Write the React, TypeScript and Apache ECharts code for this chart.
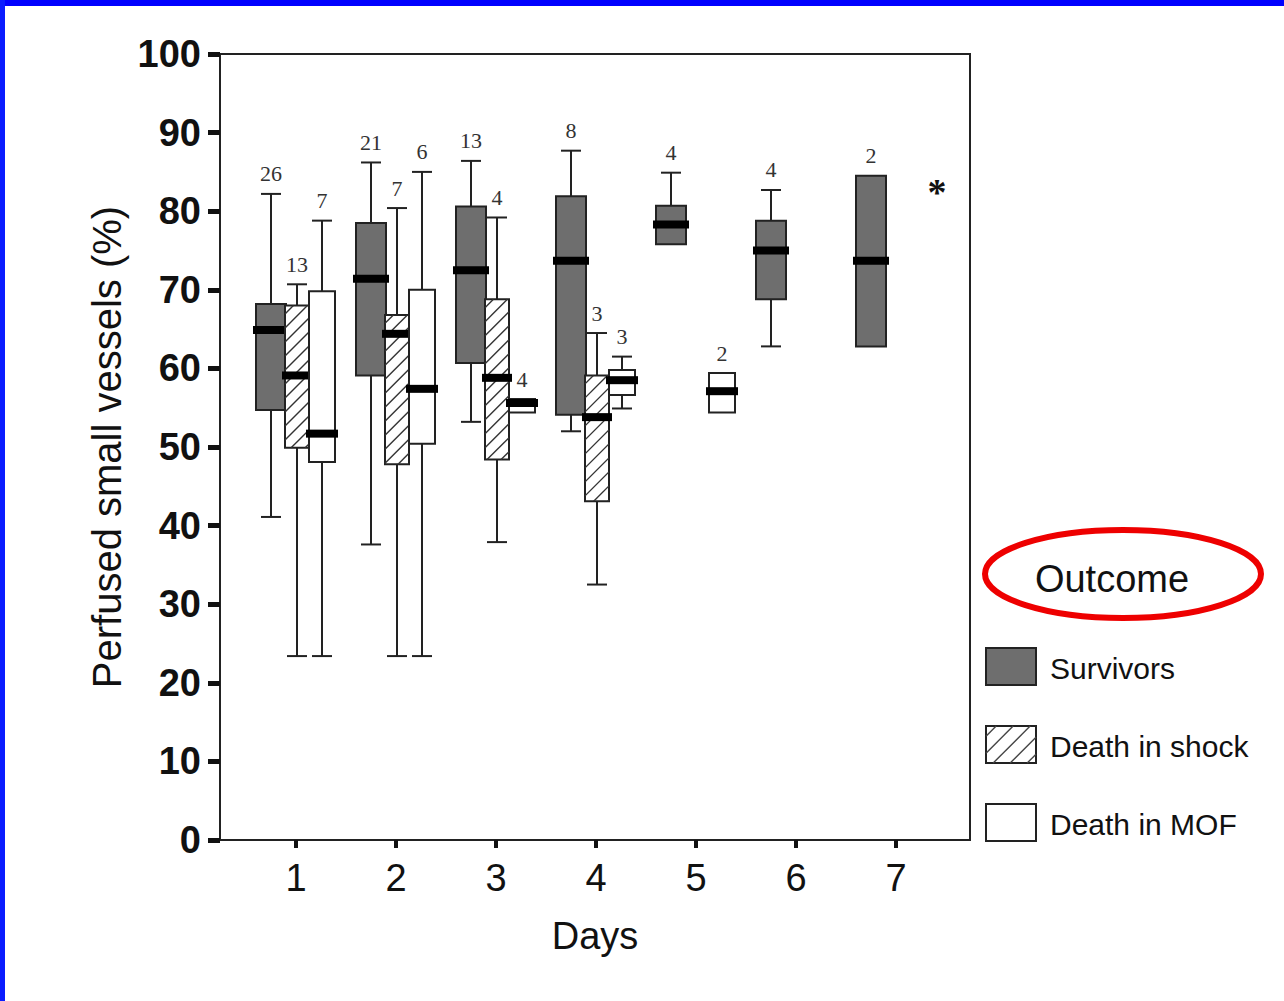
import React, { useEffect, useRef } from "react";
import * as echarts from "echarts";

// ---- data ----
const days = [1, 2, 3, 4, 5, 6, 7];
const yTicks = [0, 10, 20, 30, 40, 50, 60, 70, 80, 90, 100];
const outcomeNames = ["Survivors", "Death in shock", "Death in MOF"];

// [day, min, q1, median, q3, max, n]
const survivors = [
  [1, 41.1, 54.7, 64.9, 68.2, 82.2, 26],
  [2, 37.6, 59.1, 71.4, 78.5, 86.2, 21],
  [3, 53.2, 60.7, 72.5, 80.6, 86.4, 13],
  [4, 52.0, 54.1, 73.7, 81.9, 87.7, 8],
  [5, 75.8, 75.8, 78.3, 80.7, 84.9, 4],
  [6, 62.8, 68.8, 75.0, 78.8, 82.7, 4],
  [7, 62.8, 62.8, 73.7, 84.5, 84.5, 2],
];
const deathInShock = [
  [1, 23.4, 49.9, 59.1, 68.0, 70.7, 13],
  [2, 23.4, 47.8, 64.4, 66.8, 80.4, 7],
  [3, 37.9, 48.4, 58.8, 68.8, 79.2, 4],
  [4, 32.5, 43.1, 53.8, 59.1, 64.5, 3],
];
const deathInMOF = [
  [1, 23.4, 48.1, 51.7, 69.8, 78.8, 7],
  [2, 23.4, 50.4, 57.4, 70.0, 85.0, 6],
  [3, 54.4, 54.4, 55.6, 56.1, 56.1, 4],
  [4, 54.9, 56.6, 58.5, 59.8, 61.5, 3],
  [5, 54.4, 54.4, 57.1, 59.4, 59.4, 2],
];

const SURV_FILL = "#6e6e6e";
const EDGE = "#222";
const FONT = '"Liberation Sans", Arial, sans-serif';
const SERIF = '"Liberation Serif", "Times New Roman", serif';

function hatchLines(x0: number, y0: number, x1: number, y1: number, step: number, color: string) {
  const out: any[] = [];
  for (let c = x0 + y0 + step * 0.6; c < x1 + y1; c += step) {
    const xs = Math.max(x0, c - y1);
    const xe = Math.min(x1, c - y0);
    if (xe <= xs) continue;
    out.push({
      type: "line",
      shape: { x1: xs, y1: c - xs, x2: xe, y2: c - xe },
      style: { stroke: color, lineWidth: 1.4 },
      silent: true,
    });
  }
  return out;
}

function makeRender(offset: number, width: number, kind: "solid" | "hatch" | "white") {
  return (params: any, api: any) => {
    const day = api.value(0);
    const mn = api.value(1), q1 = api.value(2), md = api.value(3), q3 = api.value(4), mx = api.value(5);
    const n = api.value(6);
    const cx = day + offset;
    const x = api.coord([cx, md])[0];
    const yMin = api.coord([cx, mn])[1];
    const yQ1 = api.coord([cx, q1])[1];
    const yMd = api.coord([cx, md])[1];
    const yQ3 = api.coord([cx, q3])[1];
    const yMax = api.coord([cx, mx])[1];
    const half = api.size([width, 0])[0] / 2;
    const capHalf = api.size([0.1, 0])[0];
    const children: any[] = [];
    const ls = { stroke: EDGE, lineWidth: 2 };
    if (mx > q3) {
      children.push({ type: "line", shape: { x1: x, y1: yMax, x2: x, y2: yQ3 }, style: ls });
      children.push({ type: "line", shape: { x1: x - capHalf, y1: yMax, x2: x + capHalf, y2: yMax }, style: ls });
    }
    if (mn < q1) {
      children.push({ type: "line", shape: { x1: x, y1: yQ1, x2: x, y2: yMin }, style: ls });
      children.push({ type: "line", shape: { x1: x - capHalf, y1: yMin, x2: x + capHalf, y2: yMin }, style: ls });
    }
    children.push({
      type: "rect",
      shape: { x: x - half, y: yQ3, width: half * 2, height: yQ1 - yQ3 },
      style: { fill: kind === "solid" ? SURV_FILL : "#fff", stroke: EDGE, lineWidth: 2 },
    });
    if (kind === "hatch") {
      children.push(...hatchLines(x - half, yQ3, x + half, yQ1, 14, "#333"));
    }
    children.push({
      type: "rect",
      shape: { x: x - half - 3, y: yMd - 4, width: half * 2 + 6, height: 8 },
      style: { fill: "#000" },
    });
    children.push({
      type: "text",
      style: {
        text: String(n),
        x: x,
        y: yMax - 9,
        align: "center",
        verticalAlign: "bottom",
        fontSize: 22,
        fontFamily: SERIF,
        fill: "#333",
      },
    });
    return { type: "group", children };
  };
}

function legendGraphics() {
  const items: any[] = [];
  // blue frame
  items.push({ type: "rect", shape: { x: 0, y: 0, width: 1284, height: 6 }, style: { fill: "#0000ff" }, silent: true });
  items.push({ type: "rect", shape: { x: 0, y: 0, width: 5, height: 1001 }, style: { fill: "#0a1cff" }, silent: true });
  // asterisk
  items.push({
    type: "text",
    style: { text: "*", x: 937, y: 192, align: "center", verticalAlign: "middle", fontSize: 38, fontWeight: "bold", fontFamily: SERIF, fill: "#111" },
  });
  // Outcome title and ellipse
  items.push({
    type: "text",
    style: { text: "Outcome", x: 1112, y: 579, align: "center", verticalAlign: "middle", fontSize: 38, fontFamily: FONT, fill: "#111" },
  });
  items.push({
    type: "ellipse",
    shape: { cx: 1123, cy: 574, rx: 138, ry: 44 },
    style: { fill: "none", stroke: "#ee0000", lineWidth: 6 },
  });
  const ys = [648, 726, 804];
  const kinds = ["solid", "hatch", "white"];
  ys.forEach((y, i) => {
    items.push({
      type: "rect",
      shape: { x: 986, y, width: 50, height: 37 },
      style: { fill: kinds[i] === "solid" ? SURV_FILL : "#fff", stroke: EDGE, lineWidth: 2 },
    });
    if (kinds[i] === "hatch") items.push(...hatchLines(986, y, 1036, y + 37, 17, "#444"));
    items.push({
      type: "text",
      style: { text: outcomeNames[i], x: 1050, y: y + 20, align: "left", verticalAlign: "middle", fontSize: 30, fontFamily: FONT, fill: "#111" },
    });
  });
  return items;
}

export default function App() {
  const ref = useRef<HTMLDivElement>(null);
  useEffect(() => {
    document.body.style.margin = "0";
    const chart = echarts.init(ref.current!, null, { renderer: "svg" });
    const seriesDefs = [
      { name: outcomeNames[0], data: survivors, offset: -0.25, width: 0.3, kind: "solid" as const },
      { name: outcomeNames[1], data: deathInShock, offset: 0.01, width: 0.24, kind: "hatch" as const },
      { name: outcomeNames[2], data: deathInMOF, offset: 0.26, width: 0.26, kind: "white" as const },
    ];
    chart.setOption({
      animation: false,
      backgroundColor: "#fff",
      grid: {
        left: 220,
        right: 314,
        top: 54,
        bottom: 161,
        show: true,
        borderColor: EDGE,
        borderWidth: 2,
        backgroundColor: "transparent",
      },
      xAxis: {
        type: "value",
        min: 0.24,
        max: 7.74,
        name: "Days",
        nameLocation: "middle",
        nameGap: 77,
        nameTextStyle: { fontSize: 38, fontFamily: FONT, color: "#111" },
        axisLine: { show: true, onZero: false, lineStyle: { color: EDGE, width: 2 } },
        axisTick: { show: true, length: 8, customValues: days, lineStyle: { color: "#111", width: 4 } },
        axisLabel: {
          show: true,
          customValues: days,
          fontSize: 38,
          fontFamily: FONT,
          color: "#111",
          margin: 19,
          formatter: (v: number) => String(v),
        },
        splitLine: { show: false },
      },
      yAxis: {
        type: "value",
        min: 0,
        max: 100,
        interval: 10,
        name: "Perfused small vessels (%)",
        nameLocation: "middle",
        nameGap: 93,
        nameTextStyle: { fontSize: 40, fontFamily: FONT, color: "#111" },
        axisLine: { show: true, lineStyle: { color: EDGE, width: 2 } },
        axisTick: { show: true, length: 12, lineStyle: { color: "#111", width: 5 } },
        axisLabel: {
          fontSize: 38,
          fontWeight: "bold",
          fontFamily: FONT,
          color: "#111",
          margin: 19,
          customValues: yTicks,
        },
        splitLine: { show: false },
      },
      graphic: legendGraphics(),
      series: seriesDefs.map((s) => ({
        type: "custom",
        name: s.name,
        data: s.data,
        encode: { x: 0, y: [1, 2, 3, 4, 5] },
        renderItem: makeRender(s.offset, s.width, s.kind),
        clip: false,
      })),
    });
    return () => chart.dispose();
  }, []);
  return <div ref={ref} style={{ width: 1284, height: 1001 }} />;
}
